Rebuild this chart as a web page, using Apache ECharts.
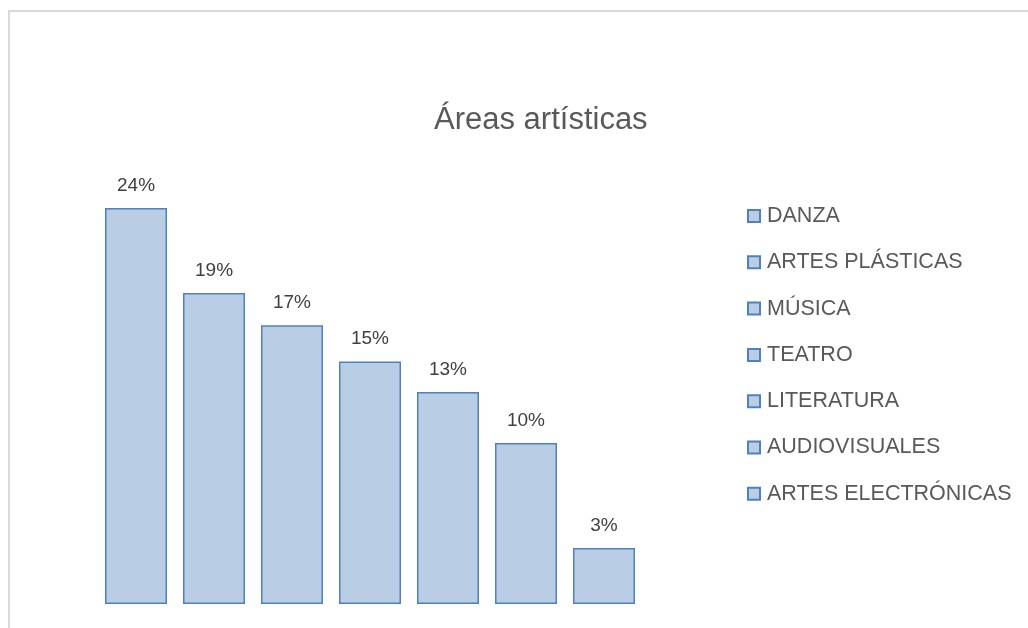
<!DOCTYPE html>
<html>
<head>
<meta charset="utf-8">
<script src="https://cdn.jsdelivr.net/npm/echarts@6/dist/echarts.min.js"></script>
<style>
  html, body { margin: 0; padding: 0; background: #fff; }
  #chart { width: 1028px; height: 628px; }
</style>
</head>
<body>
<div id="chart"></div>
<script>
// Data
const areas = ['DANZA', 'ARTES PLÁSTICAS', 'MÚSICA', 'TEATRO', 'LITERATURA', 'AUDIOVISUALES', 'ARTES ELECTRÓNICAS'];
const shares = [24.0, 18.85, 16.9, 14.7, 12.85, 9.76, 3.39];

const chart = echarts.init(document.getElementById('chart'));

const series = areas.map((name, i) => ({
    name: name,
    type: 'bar',
    data: [shares[i]],
    barWidth: 62,
    barGap: '25.8%',
    itemStyle: { color: '#b9cde5', borderColor: '#4f81bd', borderWidth: 1.5 },
    label: {
        show: true,
        position: 'top',
        distance: 13,
        color: '#404040',
        fontSize: 19,
        fontFamily: 'Liberation Sans',
        formatter: p => Math.round(p.value) + '%'
    }
}));

chart.setOption({
    animation: false,
    title: {
        text: 'Áreas artísticas',
        left: 434,
        top: 105,
        padding: 0,
        textStyle: { color: '#595959', fontSize: 31, fontWeight: 'normal', fontFamily: 'Liberation Sans' }
    },
    legend: {
        orient: 'vertical',
        left: 747,
        top: 205,
        padding: 0,
        itemWidth: 12,
        itemHeight: 12,
        itemGap: 24.3,
        icon: 'rect',
        textStyle: { color: '#595959', fontSize: 21.5, fontFamily: 'Liberation Sans', padding: [0, 0, 0, 2] },
        data: areas
    },
    grid: { left: 100, right: 388, top: 109, bottom: 24 },
    xAxis: {
        type: 'category',
        data: [''],
        axisLine: { show: false },
        axisTick: { show: false },
        axisLabel: { show: false }
    },
    yAxis: {
        type: 'value',
        min: 0,
        max: 30,
        show: false,
        splitLine: { show: false }
    },
    graphic: [{
        type: 'rect',
        shape: { x: 9, y: 11, width: 1100, height: 700 },
        style: { fill: 'none', stroke: '#d9d9d9', lineWidth: 2 },
        silent: true
    }],
    series: series
});
</script>
</body>
</html>
